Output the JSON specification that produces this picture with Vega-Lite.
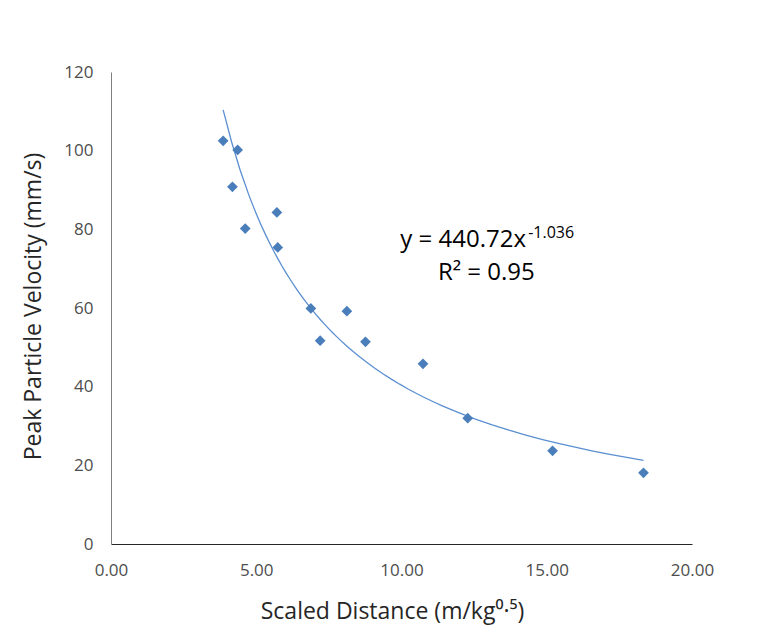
{
  "$schema": "https://vega.github.io/schema/vega-lite/v6.json",
  "width": 581,
  "height": 472,
  "autosize": {"type": "none"},
  "padding": {"left": 111, "top": 72, "right": 80, "bottom": 93},
  "background": "white",
  "config": {
    "view": {"stroke": null},
    "font": "Open Sans",
    "axis": {
      "labelFont": "Open Sans",
      "titleFont": "Open Sans",
      "labelColor": "#4d4d4d",
      "titleColor": "#262626",
      "titleFontWeight": "normal",
      "grid": false,
      "ticks": false,
      "labelFlush": false,
      "labelOverlap": false
    }
  },
  "datasets": {
    "pts": [
      {"sd": 3.86, "ppv": 102.5},
      {"sd": 4.36, "ppv": 100.2},
      {"sd": 4.18, "ppv": 90.8},
      {"sd": 4.62, "ppv": 80.2},
      {"sd": 5.71, "ppv": 84.3},
      {"sd": 5.74, "ppv": 75.4},
      {"sd": 6.88, "ppv": 59.9},
      {"sd": 7.20, "ppv": 51.7},
      {"sd": 8.12, "ppv": 59.2},
      {"sd": 8.76, "ppv": 51.4},
      {"sd": 10.74, "ppv": 45.8},
      {"sd": 12.28, "ppv": 32.0},
      {"sd": 15.20, "ppv": 23.7},
      {"sd": 18.33, "ppv": 18.1}
    ],
    "notes": [
      {"label": "y = 440.72x", "sd": 9.96, "ppv": 75.5, "kind": "main", "al": "left"},
      {"label": "-1.036", "sd": 14.36, "ppv": 77.9, "kind": "sup", "al": "left"},
      {"label": "R² = 0.95", "sd": 12.92, "ppv": 67.1, "kind": "main", "al": "center"}
    ]
  },
  "layer": [
    {
      "data": {"name": "pts"},
      "transform": [{"regression": "ppv", "on": "sd", "method": "pow"}],
      "mark": {"type": "line", "color": "#5b8fd0", "strokeWidth": 1.3, "clip": false},
      "encoding": {
        "x": {
          "field": "sd", "type": "quantitative",
          "scale": {"domain": [0, 20], "nice": false, "zero": true},
          "axis": {
            "values": [0, 5, 10, 15, 20],
            "format": ".2f",
            "labelFontSize": 17,
            "labelPadding": 18,
            "domainColor": "#262626",
            "title": "Scaled Distance (m/kg⁰·⁵)",
            "titleFontSize": 23,
            "titleX": 281,
            "titleY": 67,
            "titleBaseline": "middle"
          }
        },
        "y": {
          "field": "ppv", "type": "quantitative",
          "scale": {"domain": [0, 120], "nice": false},
          "axis": {
            "values": [0, 20, 40, 60, 80, 100, 120],
            "labelFontSize": 17,
            "labelPadding": 18,
            "domainColor": "#7f7f7f",
            "title": "Peak Particle Velocity (mm/s)",
            "titleFontSize": 23,
            "titleX": -78,
            "titleY": 234,
            "titleBaseline": "middle"
          }
        }
      }
    },
    {
      "data": {"name": "pts"},
      "mark": {"type": "point", "shape": "diamond", "filled": true, "color": "#4a7ebb", "opacity": 1, "size": 115},
      "encoding": {
        "x": {"field": "sd", "type": "quantitative"},
        "y": {"field": "ppv", "type": "quantitative"}
      }
    },
    {
      "data": {"name": "notes"},
      "transform": [{"filter": "datum.al === 'left' && datum.kind === 'main'"}],
      "mark": {"type": "text", "align": "left", "baseline": "alphabetic", "fontSize": 24, "color": "#000000", "font": "Open Sans"},
      "encoding": {
        "x": {"field": "sd", "type": "quantitative"},
        "y": {"field": "ppv", "type": "quantitative"},
        "text": {"field": "label"}
      }
    },
    {
      "data": {"name": "notes"},
      "transform": [{"filter": "datum.al === 'center'"}],
      "mark": {"type": "text", "align": "center", "baseline": "alphabetic", "fontSize": 24, "color": "#000000", "font": "Open Sans"},
      "encoding": {
        "x": {"field": "sd", "type": "quantitative"},
        "y": {"field": "ppv", "type": "quantitative"},
        "text": {"field": "label"}
      }
    },
    {
      "data": {"name": "notes"},
      "transform": [{"filter": "datum.kind === 'sup'"}],
      "mark": {"type": "text", "align": "left", "baseline": "alphabetic", "fontSize": 16, "color": "#000000", "font": "Open Sans"},
      "encoding": {
        "x": {"field": "sd", "type": "quantitative"},
        "y": {"field": "ppv", "type": "quantitative"},
        "text": {"field": "label"}
      }
    }
  ]
}
